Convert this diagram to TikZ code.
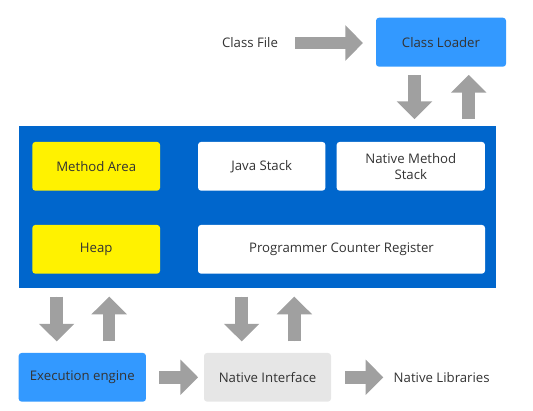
\documentclass[tikz,border=0pt]{standalone}
\usepackage{fontspec}
\setmainfont{Open Sans}
\usetikzlibrary{arrows.meta}
\definecolor{txt}{HTML}{333333}
\definecolor{lblue}{HTML}{3399FF}
\definecolor{dblue}{HTML}{0066CC}
\definecolor{agray}{HTML}{A0A0A0}
\definecolor{lgray}{HTML}{E6E6E6}
\begin{document}
\begin{tikzpicture}[x=1pt,y=-1pt,
  font=\fontsize{13.2}{16}\selectfont,
  box/.style={rectangle,rounded corners=3pt,inner sep=0pt,text=txt,align=center,
    minimum height=48.7pt},
  lbl/.style={inner sep=0pt,text=txt},
  barrow/.style={draw=agray,line width=12.5pt,
    -{Triangle[width=34.5pt,length=17.7pt]},fill=agray}]
\useasboundingbox (0,0) rectangle (533,410);
% top
\node[lbl] (cf) at (250,43) {Class File};
\node[box,fill=lblue,minimum width=130pt,minimum height=49pt] (cl) at (441,42.2) {Class Loader};
% JVM area
\node[rectangle,fill=dblue,minimum width=477pt,minimum height=162pt,inner sep=0pt] (jvm) at (257.5,207) {};
\node[box,fill=yellow,minimum width=127.7pt] (ma) at (96.2,166.3) {Method Area};
\node[box,fill=white,minimum width=127.3pt] (js) at (261.7,166.3) {Java Stack};
\node[box,fill=white,minimum width=148.3pt] (nms) at (410.8,166.3) {Native Method\\Stack};
\node[box,fill=yellow,minimum width=127.7pt] (heap) at (96.2,249.3) {Heap};
\node[box,fill=white,minimum width=287pt] (pcr) at (341.5,249.3) {Programmer Counter Register};
% bottom
\node[box,fill=lblue,minimum width=127.3pt] (ee) at (82.3,377.3) {Execution engine};
\node[box,fill=lgray,minimum width=127pt] (ni) at (267.5,377.3) {Native Interface};
\node[lbl] (nl) at (441.7,377.3) {Native Libraries};
% arrows
\coordinate (cfa) at (295,43);
\coordinate (cfb) at (363,43);
\draw[barrow] (cfa) -- (cfb);
\draw[barrow,shorten <=8pt,shorten >=6.7pt] (414.5,0 |- cl.south) -- (414.5,0 |- jvm.north);
\draw[barrow,shorten <=6.7pt,shorten >=8pt] (468.7,0 |- jvm.north) -- (468.7,0 |- cl.south);
\draw[barrow,shorten <=8.4pt,shorten >=11.3pt] (56.7,0 |- jvm.south) -- (56.7,0 |- ee.north);
\draw[barrow,shorten <=11.3pt,shorten >=8.4pt] (109.2,0 |- ee.north) -- (109.2,0 |- jvm.south);
\draw[barrow,shorten <=8.4pt,shorten >=11.3pt] (241.7,0 |- jvm.south) -- (241.7,0 |- ni.north);
\draw[barrow,shorten <=11.3pt,shorten >=8.4pt] (294.3,0 |- ni.north) -- (294.3,0 |- jvm.south);
\draw[barrow,shorten <=13pt,shorten >=5.7pt] (ee.east) -- (ni.west);
\coordinate (nla) at (345,377.3);
\coordinate (nlb) at (383.3,377.3);
\draw[barrow] (nla) -- (nlb);
\end{tikzpicture}
\end{document}
